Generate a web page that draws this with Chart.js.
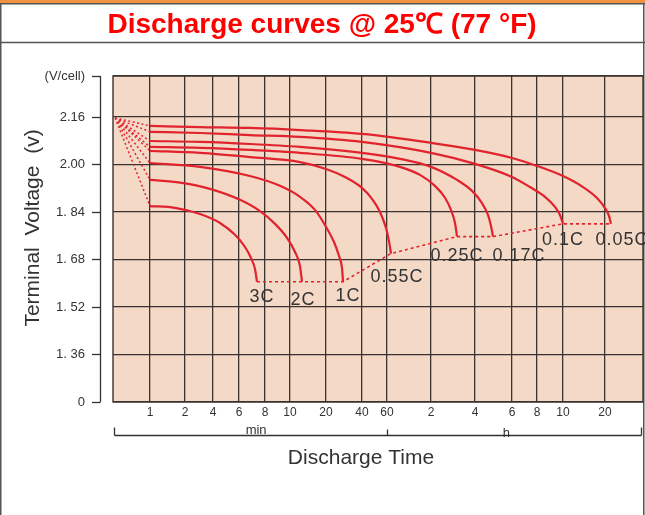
<!DOCTYPE html>
<html><head><meta charset="utf-8">
<script src="https://cdn.jsdelivr.net/npm/chart.js@4.4.1/dist/chart.umd.min.js"></script>
<style>
html,body{margin:0;padding:0;background:#fff;}
canvas{display:block;}
</style></head>
<body>
<canvas id="c" width="645" height="515"></canvas>
<script>
// ---- Data (x = position along the discharge-time axis, 0..100; y = V/cell) ----
const timeTickPos = [6.98, 13.58, 18.87, 23.77, 28.68, 33.40, 40.19, 46.98, 51.70, 60.0, 68.30, 75.28, 80.0, 84.91, 92.83];
const timeTickLabels = ['1','2','4','6','8','10','20','40','60','2','4','6','8','10','20'];
const voltTickVals = [1.20, 1.36, 1.52, 1.68, 1.84, 2.00, 2.16, 2.298];
const voltTickLabels = ['0','1. 36','1. 52','1. 68','1. 84','2.00','2.16','(V/cell)'];

const rateLabels = ['3C','2C','1C','0.55C','0.25C','0.17C','0.1C','0.05C'];
const t3C = [6.98, 11.70, 16.42, 20.19, 23.02, 24.91, 26.04, 26.79, 27.17];
const v3C = [1.860, 1.854, 1.833, 1.803, 1.763, 1.722, 1.685, 1.648, 1.605];
const t2C = [6.98, 12.64, 18.30, 23.96, 27.74, 30.57, 32.83, 34.34, 35.28, 35.66];
const v2C = [1.948, 1.939, 1.918, 1.881, 1.843, 1.800, 1.753, 1.705, 1.658, 1.605];
const t1C = [6.98, 16.42, 25.85, 31.51, 35.28, 38.11, 40.19, 41.70, 42.64, 43.21, 43.40];
const v1C = [2.005, 1.992, 1.961, 1.928, 1.891, 1.847, 1.790, 1.739, 1.692, 1.651, 1.605];
const t055C = [6.98, 16.42, 25.85, 35.28, 40.19, 43.77, 46.98, 48.87, 50.38, 51.51, 52.08, 52.45];
const v055C = [2.046, 2.039, 2.025, 2.008, 1.985, 1.958, 1.921, 1.884, 1.840, 1.786, 1.742, 1.700];
const t025C = [6.98, 16.42, 25.85, 35.28, 46.98, 54.15, 57.92, 60.75, 62.64, 63.77, 64.53, 64.91];
const v025C = [2.059, 2.056, 2.049, 2.039, 2.019, 1.992, 1.965, 1.928, 1.888, 1.847, 1.803, 1.757];
const t017C = [6.98, 16.42, 25.85, 35.28, 46.98, 54.15, 60.0, 64.91, 67.74, 69.62, 70.75, 71.32, 71.70];
const v017C = [2.079, 2.076, 2.069, 2.059, 2.039, 2.019, 1.992, 1.948, 1.911, 1.870, 1.830, 1.793, 1.757];
const t01C = [6.98, 16.42, 25.85, 35.28, 46.98, 60.0, 68.30, 75.28, 78.68, 81.51, 83.40, 84.34, 84.91];
const v01C = [2.110, 2.106, 2.099, 2.093, 2.076, 2.039, 2.002, 1.958, 1.924, 1.891, 1.857, 1.830, 1.800];
const t005C = [6.98, 16.42, 25.85, 35.28, 46.98, 60.0, 68.30, 75.28, 80.0, 84.91, 88.68, 91.32, 92.83, 93.58, 93.96];
const v005C = [2.130, 2.126, 2.123, 2.116, 2.103, 2.073, 2.049, 2.022, 1.995, 1.961, 1.924, 1.887, 1.853, 1.827, 1.800];
// common starting point of the dotted lead-ins (time 0)
const startT = 0.4;
const startV = 2.157;

// ---- Styles ----
const RED = '#e0232d';
const INK = '#333333';
const GRID = '#3b3330';
const FONT = '"Liberation Sans", Arial, Helvetica, sans-serif';
Chart.defaults.font.family = FONT;
// label offsets (px) relative to the curve end point
const labelOffset = [[5,15],[1,18],[5,14],[6,23],[0,19],[26,19],[0,16],[11,16]];

const curveT = [t3C, t2C, t1C, t055C, t025C, t017C, t01C, t005C];
const curveV = [v3C, v2C, v1C, v055C, v025C, v017C, v01C, v005C];

const datasets = curveT.map((ts, k) => ({
  label: rateLabels[k],
  data: ts.map((x, i) => ({x, y: curveV[k][i]})),
  borderColor: RED, borderWidth: 2.2, pointRadius: 0, fill: false,
  cubicInterpolationMode: 'monotone'
}));
const leadIn = [];
curveT.forEach((ts, k) => {
  leadIn.push({x: startT, y: startV}, {x: ts[0], y: curveV[k][0]}, {x: ts[0], y: null});
});
datasets.push({
  label: 'start', data: leadIn, borderColor: RED, borderWidth: 1.5,
  borderDash: [2, 2.5], pointRadius: 0, fill: false, tension: 0, spanGaps: false
});
datasets.push({
  label: 'end', data: curveT.map((ts, k) => ({x: ts[ts.length-1], y: curveV[k][ts.length-1]})),
  borderColor: RED, borderWidth: 1.6, borderDash: [3, 3], pointRadius: 0, fill: false, tension: 0
});

function seg(ctx, x1, y1, x2, y2) { ctx.beginPath(); ctx.moveTo(x1, y1); ctx.lineTo(x2, y2); ctx.stroke(); }

const decor = {
  id: 'decor',
  beforeDraw(chart) {
    const {ctx, chartArea: a} = chart;
    ctx.save();
    ctx.fillStyle = '#fff'; ctx.fillRect(0, 0, 645, 515);
    ctx.fillStyle = '#f0923f'; ctx.fillRect(0, 0, 645, 3);
    ctx.strokeStyle = '#555'; ctx.lineWidth = 1.5;
    seg(ctx, 0.75, 3, 0.75, 515);
    seg(ctx, 643.75, 3, 643.75, 515);
    seg(ctx, 0, 3.75, 645, 3.75);
    seg(ctx, 0, 42.5, 645, 42.5);
    ctx.fillStyle = '#ff0000';
    ctx.font = 'bold 28px ' + FONT;
    ctx.textAlign = 'center'; ctx.textBaseline = 'alphabetic';
    ctx.fillText('Discharge curves @ 25\u2103 (77 \u00B0F)', 322, 33);
    ctx.fillStyle = '#f4d9c7';
    ctx.fillRect(a.left, a.top, a.right - a.left, a.bottom - a.top);
    ctx.restore();
  },
  beforeDatasetsDraw(chart) {
    const {ctx, chartArea: a} = chart;
    ctx.save();
    ctx.strokeStyle = GRID; ctx.lineWidth = 1.4;
    ctx.strokeRect(a.left, a.top, a.right - a.left, a.bottom - a.top);
    ctx.restore();
  },
  afterDatasetsDraw(chart) {
    const {ctx, chartArea: a, scales} = chart;
    const ys = scales.y, xs = scales.x;
    ctx.save();
    ctx.strokeStyle = INK; ctx.lineWidth = 1.3;
    const axX = a.left - 12.5;
    seg(ctx, axX, ys.getPixelForValue(ys.max), axX, ys.getPixelForValue(ys.min));
    voltTickVals.forEach(v => { const p = Math.round(ys.getPixelForValue(v)) + 0.5; seg(ctx, axX - 8.5, p, axX, p); });
    // time bracket
    const by = 435.5;
    const xL = a.left + 1.5, xR = a.right - 1.5, xM = Math.round(xs.getPixelForValue(timeTickPos[8])) + 0.5;
    seg(ctx, xL, by, xR, by);
    seg(ctx, xL, by, xL, by - 8);
    seg(ctx, xR, by, xR, by - 8);
    seg(ctx, xM, by, xM, by - 6);
    ctx.fillStyle = INK; ctx.textAlign = 'center'; ctx.textBaseline = 'middle';
    ctx.font = '13px ' + FONT;
    ctx.fillText('min', xs.getPixelForValue(27), 430);
    ctx.fillText('h', xs.getPixelForValue(74.2), 433);
    ctx.font = '21px ' + FONT;
    ctx.fillText('Discharge Time', 361, 458);
    ctx.save();
    ctx.translate(33, 228); ctx.rotate(-Math.PI / 2);
    ctx.fillText('Terminal  Voltage  (v)', 0, 0);
    ctx.restore();
    // rate labels
    ctx.font = '18px ' + FONT;
    try { ctx.letterSpacing = '1px'; } catch (e) {}
    curveT.forEach((ts, k) => {
      const i = ts.length - 1;
      const px = xs.getPixelForValue(ts[i]) + labelOffset[k][0];
      const py = ys.getPixelForValue(curveV[k][i]) + labelOffset[k][1];
      ctx.fillText(rateLabels[k], px, py);
    });
    ctx.restore();
  }
};

new Chart(document.getElementById('c'), {
  type: 'line',
  data: {datasets},
  options: {
    responsive: false, animation: false, devicePixelRatio: 1,
    layout: {padding: {top: 76, left: 0, right: 2, bottom: 0}},
    plugins: {legend: {display: false}, tooltip: {enabled: false}, title: {display: false}},
    scales: {
      x: {
        type: 'linear', min: 0, max: 100,
        afterBuildTicks: s => { s.ticks = timeTickPos.map(v => ({value: v})); },
        afterFit: s => { s.height = 113; },
        grid: {color: GRID, lineWidth: 1.3, drawTicks: false},
        border: {display: false},
        ticks: {autoSkip: false, maxRotation: 0, padding: 3, color: INK, font: {size: 12},
                callback: (v, i) => timeTickLabels[i]}
      },
      y: {
        type: 'linear', min: voltTickVals[0], max: voltTickVals[voltTickVals.length - 1],
        afterBuildTicks: s => { s.ticks = voltTickVals.map(v => ({value: v})); },
        afterFit: s => { s.width = 113; },
        grid: {color: GRID, lineWidth: 1.3, drawTicks: false},
        border: {display: false},
        ticks: {autoSkip: false, padding: 28, color: INK, font: {size: 13},
                callback: (v, i) => voltTickLabels[i]}
      }
    }
  },
  plugins: [decor]
});
</script>
</body></html>
